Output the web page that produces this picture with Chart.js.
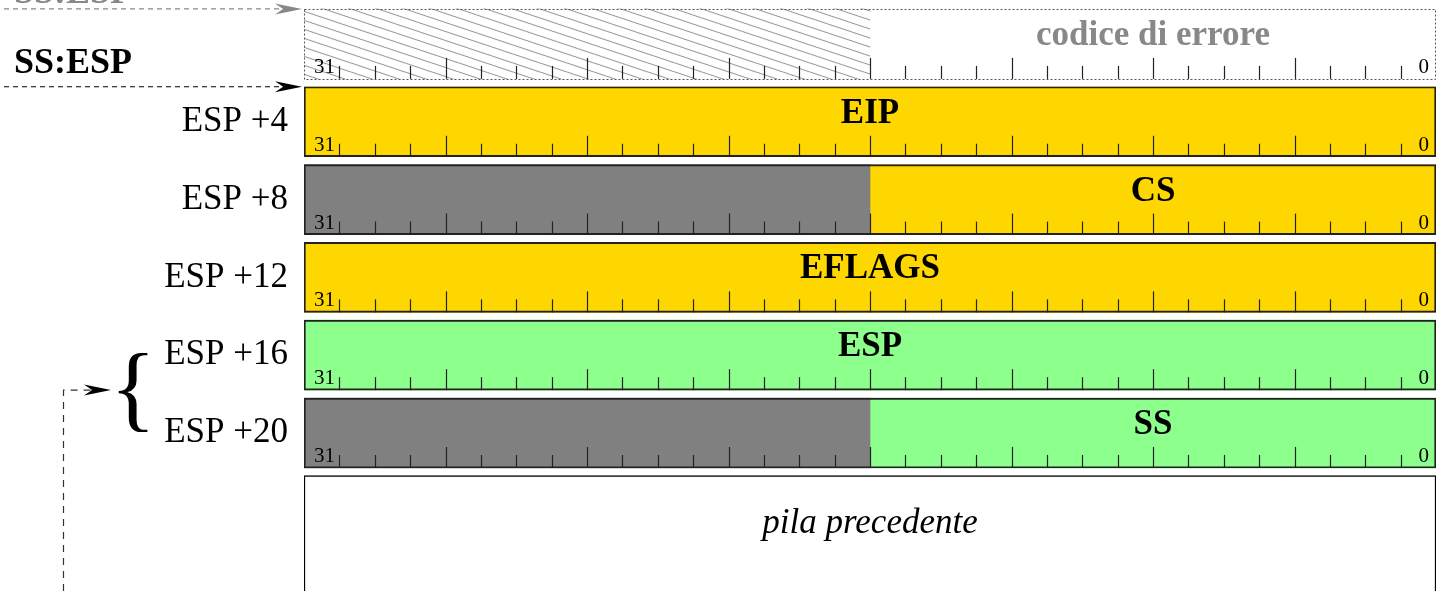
<!DOCTYPE html>
<html lang="it">
<head>
<meta charset="utf-8">
<title>Pila dopo un'eccezione con codice di errore</title>
<script src="https://cdn.jsdelivr.net/npm/chart.js@4.4.1/dist/chart.umd.min.js"></script>
<style>
html, body { margin: 0; padding: 0; background: #fff; overflow: hidden; }
#contenitore { width: 1445px; height: 591px; }
</style>
</head>
<body>
<div id="contenitore"><canvas id="pila"></canvas></div>
<script>
// etichette a sinistra (spostamento rispetto a ESP)
const etichetteRighe = ['', 'ESP +4', 'ESP +8', 'ESP +12', 'ESP +16', 'ESP +20'];
// campi della pila: nome, riga, bit alto, bit basso, colore
const nomiCampi = ['codice di errore', 'EIP', 'CS', 'EFLAGS', 'ESP', 'SS'];
const righeCampi = [0, 1, 2, 3, 4, 5];
const bitAltiCampi = [15, 31, 15, 31, 31, 15];
const bitBassiCampi = [0, 0, 0, 0, 0, 0];
const coloriCampi = ['#ffffff', '#ffd700', '#ffd700', '#ffd700', '#8cff8c', '#8cff8c'];
// bit 31..16 non usati
const righeRiservate = [0, 2, 5];
const bitAltiRiservati = [31, 31, 31];
const bitBassiRiservati = [16, 16, 16];
const tipiRiservati = ['tratteggio', 'grigio', 'grigio'];
const etichetteBit = ['31', '0'];
// la pila precedente continua oltre il bordo inferiore
const rigaPila = 7;
const testoPila = 'pila precedente';

const serif = '"Liberation Serif", "DejaVu Serif", serif';

function creaTratteggio() {
    const c = document.createElement('canvas');
    c.width = 27; c.height = 9;
    const g = c.getContext('2d');
    g.strokeStyle = '#9a9a9a';
    g.lineWidth = 1.1;
    [-9, 0, 9].forEach(function (dy) {
        g.beginPath();
        g.moveTo(0, dy);
        g.lineTo(27, dy + 9);
        g.stroke();
    });
    return g.createPattern(c, 'repeat');
}
const tratteggio = creaTratteggio();

// dati delle barre
const datiCampi = [];
const coloriBarre = [];
righeCampi.forEach(function (r, i) {
    datiCampi.push({ x: [bitBassiCampi[i], bitAltiCampi[i] + 1], y: r });
    coloriBarre.push(coloriCampi[i]);
});
righeRiservate.forEach(function (r, i) {
    datiCampi.push({ x: [bitBassiRiservati[i], bitAltiRiservati[i] + 1], y: r });
    coloriBarre.push(tipiRiservati[i] === 'tratteggio' ? tratteggio : '#808080');
});
const datiCornici = righeCampi.map(function (r) { return { x: [0, 32], y: r }; });
const spessoriCornici = righeCampi.map(function (r) { return r === 0 ? 0 : 1.3; });

function freccia(ctx, xp, yp, colore) {
    const L = 27, w = 5.5;
    ctx.fillStyle = colore;
    ctx.beginPath();
    ctx.moveTo(xp, yp);
    ctx.lineTo(xp - L, yp - w);
    ctx.lineTo(xp - L * 0.7, yp);
    ctx.lineTo(xp - L, yp + w);
    ctx.closePath();
    ctx.fill();
}

const disegno = {
    id: 'disegno',
    afterDatasetsDraw(chart) {
        const ctx = chart.ctx;
        const xs = chart.scales.x, ys = chart.scales.y;
        const mezza = 35;
        const sx = xs.getPixelForValue(32), dx = xs.getPixelForValue(0);
        ctx.save();

        // cornice punteggiata del codice di errore
        const t0 = ys.getPixelForValue(0) - mezza;
        ctx.strokeStyle = '#555';
        ctx.lineWidth = 1;
        ctx.setLineDash([2, 2]);
        ctx.strokeRect(Math.round(sx) + 0.5, Math.round(t0) + 0.5, Math.round(dx - sx) - 1, 2 * mezza);
        ctx.setLineDash([]);

        // tacche dei bit
        ctx.strokeStyle = '#222';
        ctx.lineWidth = 1.2;
        righeCampi.forEach(function (r) {
            const fondo = ys.getPixelForValue(r) + mezza;
            for (let b = xs.min + 1; b < xs.max; b++) {
                const xp = Math.round(xs.getPixelForValue(b)) + 0.5;
                const h = b % 4 === 0 ? 21 : 13;
                ctx.beginPath();
                ctx.moveTo(xp, fondo);
                ctx.lineTo(xp, fondo - h);
                ctx.stroke();
            }
            ctx.fillStyle = '#000';
            ctx.font = '21px ' + serif;
            ctx.textBaseline = 'alphabetic';
            ctx.textAlign = 'left';
            ctx.fillText(etichetteBit[0], sx + 10, fondo - 6);
            ctx.textAlign = 'right';
            ctx.fillText(etichetteBit[1], dx - 7, fondo - 6);
        });

        // nomi dei campi
        ctx.font = 'bold 35px ' + serif;
        ctx.textAlign = 'center';
        ctx.textBaseline = 'middle';
        nomiCampi.forEach(function (n, i) {
            const xc = (xs.getPixelForValue(bitBassiCampi[i]) + xs.getPixelForValue(bitAltiCampi[i] + 1)) / 2;
            const yc = ys.getPixelForValue(righeCampi[i]) - 8;
            ctx.fillStyle = righeCampi[i] === 0 ? '#888' : '#000';
            ctx.fillText(n, xc, yc);
        });

        ctx.font = 'italic 35px ' + serif;
        ctx.fillStyle = '#000';
        ctx.fillText(testoPila, (sx + dx) / 2, ys.getPixelForValue(6) + 13);

        // SS:ESP e frecce
        ctx.textAlign = 'left';
        ctx.textBaseline = 'alphabetic';
        ctx.font = 'bold 36px ' + serif;
        ctx.fillStyle = '#888';
        ctx.fillText('SS:ESP', 14, 3);
        ctx.fillStyle = '#000';
        ctx.fillText('SS:ESP', 14, 73);

        const punta = sx - 2;
        const yGrigia = t0;
        const yNera = ys.getPixelForValue(1) - mezza;
        ctx.lineWidth = 1.2;
        ctx.setLineDash([5, 4]);
        ctx.strokeStyle = '#888';
        ctx.beginPath(); ctx.moveTo(4, yGrigia); ctx.lineTo(punta - 19, yGrigia); ctx.stroke();
        ctx.strokeStyle = '#000';
        ctx.beginPath(); ctx.moveTo(4, yNera); ctx.lineTo(punta - 19, yNera); ctx.stroke();
        ctx.setLineDash([]);
        freccia(ctx, punta, yGrigia, '#888');
        freccia(ctx, punta, yNera, '#000');

        // graffa e freccia di ritorno
        const yGraffa = (ys.getPixelForValue(4) + ys.getPixelForValue(5)) / 2;
        ctx.font = '96px ' + serif;
        ctx.textAlign = 'center';
        ctx.textBaseline = 'middle';
        ctx.fillText('{', 133, yGraffa);

        const yf = yGraffa - 4;
        ctx.strokeStyle = '#333';
        ctx.lineWidth = 1.2;
        ctx.setLineDash([7, 6]);
        ctx.beginPath();
        ctx.moveTo(63.5, chart.height);
        ctx.lineTo(63.5, yf);
        ctx.lineTo(92, yf);
        ctx.stroke();
        ctx.setLineDash([]);
        freccia(ctx, 111, yf, '#000');

        ctx.restore();
    }
};

new Chart(document.getElementById('pila'), {
    type: 'bar',
    data: {
        datasets: [{
            label: 'cornici',
            data: datiCornici,
            backgroundColor: 'rgba(0,0,0,0)',
            borderColor: '#222',
            borderWidth: spessoriCornici,
            borderSkipped: false,
            barThickness: 70,
            grouped: false,
            order: 0
        }, {
            label: 'campi',
            data: datiCampi,
            backgroundColor: coloriBarre,
            borderWidth: 0,
            barThickness: 70,
            grouped: false,
            order: 2
        }, {
            label: 'pila precedente',
            data: [{ x: [0, 32], y: rigaPila }],
            backgroundColor: '#ffffff',
            borderColor: '#000',
            borderWidth: 1.5,
            borderSkipped: false,
            barThickness: 226,
            grouped: false,
            order: 3
        }]
    },
    options: {
        indexAxis: 'y',
        responsive: true,
        maintainAspectRatio: false,
        animation: false,
        layout: { padding: { top: 5, right: 9, left: 0, bottom: 0 } },
        plugins: { legend: { display: false }, tooltip: { enabled: false } },
        scales: {
            x: {
                type: 'linear',
                min: 0,
                max: 32,
                reverse: true,
                display: false
            },
            y: {
                type: 'linear',
                min: -0.5,
                max: 7.03,
                reverse: true,
                offset: false,
                afterBuildTicks: function (s) {
                    s.ticks = etichetteRighe.map(function (t, i) { return { value: i }; });
                },
                afterFit: function (s) {
                    s.width = 304;
                    s.paddingTop = 0;
                    s.paddingBottom = 0;
                },
                grid: { display: false, drawTicks: false },
                border: { display: false },
                ticks: {
                    autoSkip: false,
                    padding: 16,
                    color: '#000',
                    font: { family: serif, size: 35 },
                    callback: function (v) { return etichetteRighe[v] || ''; }
                }
            }
        }
    },
    plugins: [disegno]
});
</script>
</body>
</html>
